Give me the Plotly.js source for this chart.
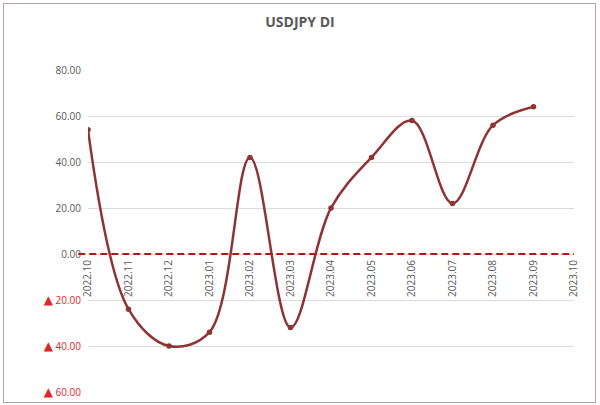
<!DOCTYPE html>
<html>
<head>
<meta charset="utf-8">
<script src="https://cdn.plot.ly/plotly-3.0.1.min.js"></script>
<style>
html,body{margin:0;padding:0;background:#fff;}
#wrap{position:relative;width:600px;height:405px;}
#chart{width:600px;height:405px;}
#frame{position:absolute;left:3px;top:3px;width:591px;height:398px;border:1.5px solid #b9a3a8;pointer-events:none;}
</style>
</head>
<body>
<div id="wrap"><div id="chart"></div><div id="frame"></div></div>
<script>
const categories = ["2022.10","2022.11","2022.12","2023.01","2023.02","2023.03","2023.04","2023.05","2023.06","2023.07","2023.08","2023.09","2023.10"];
const diValues = [54, -24, -40, -34, 42, -32, 20, 42, 58, 22, 56, 64];
const yTickVals = [80, 60, 40, 20, 0, -20, -40, -60];
const yTickText = ["80.00", "60.00", "40.00", "20.00", "0.00",
  "▲ 20.00", "▲ 40.00", "▲ 60.00"];

const xIdx = diValues.map((v, i) => i);
const catIdx = categories.map((c, i) => i);
const yMin = -60, yMax = 80;

function fmtTick(t, v) {
  if (v < 0) {
    return "<span style='color:#e4232a'><span style='font-family:DejaVu Sans;font-size:12px'>▲</span>" + t.slice(1) + "</span>";
  }
  return "<span style='color:#595959'>" + t + "</span>";
}

const trace = {
  x: xIdx,
  y: diValues,
  type: 'scatter',
  mode: 'lines+markers',
  line: {shape: 'spline', smoothing: 1, color: '#8e3434', width: 2.5},
  marker: {size: 5.5, color: '#8e3434'},
  hoverinfo: 'skip'
};

const layout = {
  width: 600, height: 405,
  margin: {l: 88, r: 26, t: 70, b: 13},
  paper_bgcolor: '#ffffff',
  plot_bgcolor: '#ffffff',
  showlegend: false,
  title: {text: '<b>USDJPY DI</b>', x: 0.5, xanchor: 'center', y: 0.945, yanchor: 'middle',
          font: {family: 'Open Sans, Liberation Sans, sans-serif', size: 14, color: '#595959'}},
  font: {family: 'Open Sans, Liberation Sans, sans-serif', size: 10, color: '#595959'},
  xaxis: {
    range: [0, categories.length - 1],
    tickvals: catIdx, ticktext: categories,
    tickangle: -90,
    showgrid: false, zeroline: false, showline: false,
    ticks: '',
    anchor: 'free',
    position: (0 - yMin) / (yMax - yMin),
    ticklabelstandoff: 3,
    tickfont: {size: 10, color: '#595959'}
  },
  yaxis: {
    range: [yMin, yMax],
    tickvals: yTickVals, ticktext: yTickText.map((t, i) => fmtTick(t, yTickVals[i])),
    showgrid: true, gridcolor: '#dcdcdc', gridwidth: 1,
    zeroline: false, showline: false, ticks: '',
    ticklabelstandoff: 6,
    tickfont: {size: 10, color: '#595959'}
  },
  shapes: [{
    type: 'line', xref: 'paper', yref: 'y',
    x0: -0.02, x1: 1, y0: 0, y1: 0,
    line: {color: '#b01818', width: 2, dash: '7px,4px'}
  }]
};

Plotly.newPlot('chart', [trace], layout, {staticPlot: true, displayModeBar: false});
</script>
</body>
</html>
